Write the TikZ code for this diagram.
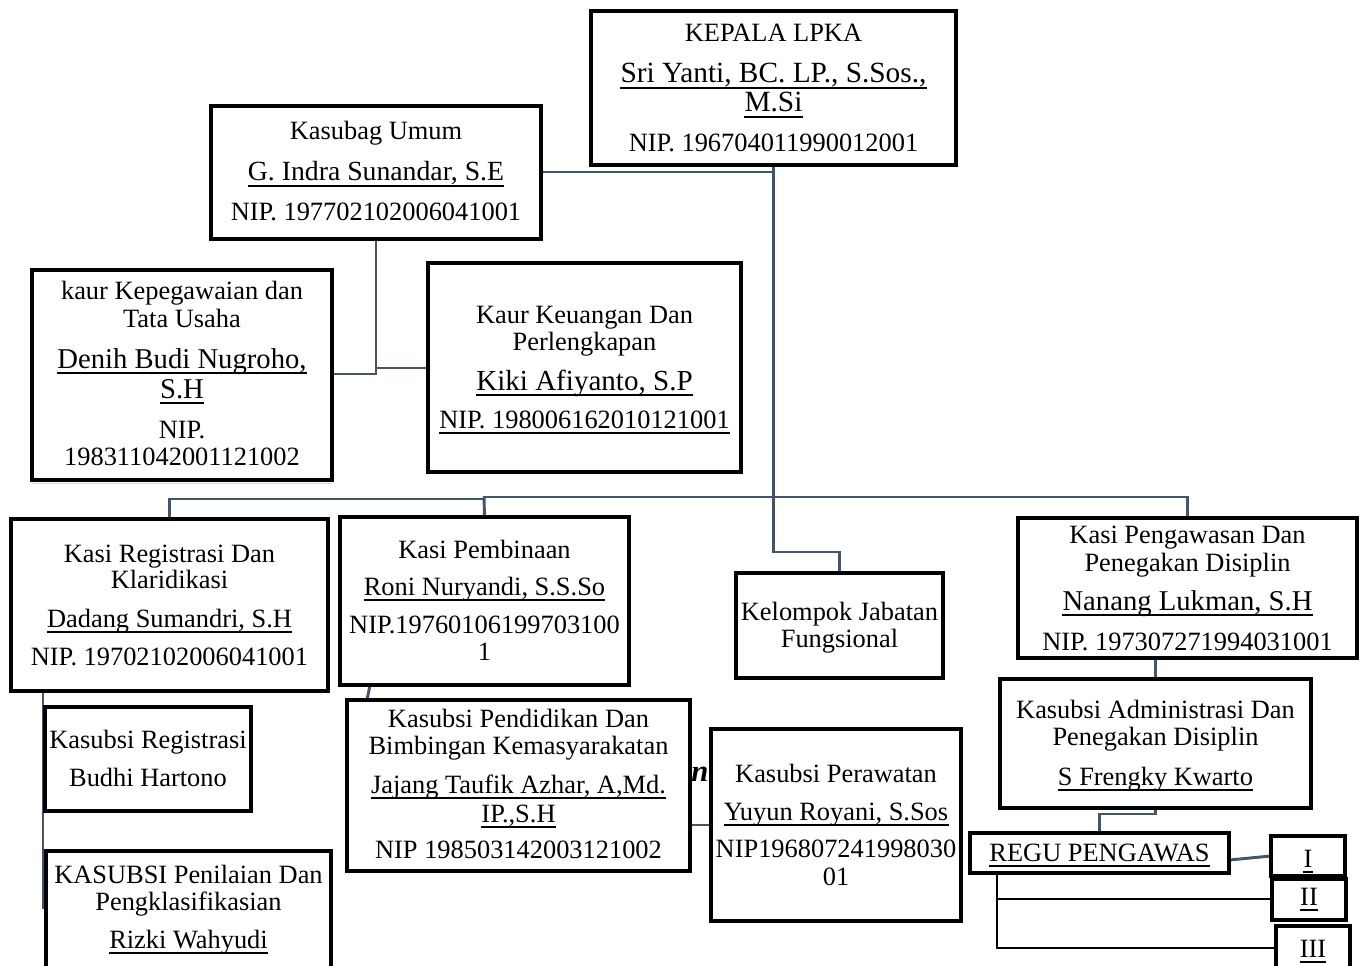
\documentclass[tikz,border=0pt]{standalone}
\usepackage{fontspec}
\setmainfont{Liberation Serif}
\usetikzlibrary{fit}
\definecolor{conn}{HTML}{44546A}
\newcommand\undl[1]{\draw[ulline] ([yshift=-3.6pt]#1.base west) -- ([yshift=-3.6pt]#1.base east);}
\begin{document}
\begin{tikzpicture}[x=0.75pt,y=-0.75pt,
  box/.style={draw=black, line width=2pt, fill=white, inner sep=0pt},
  t/.style={inner sep=0pt, anchor=base, font=\fontsize{19.8}{22}\selectfont},
  nm/.style={inner sep=0pt, anchor=base, font=\fontsize{#1}{24}\selectfont},
  nm/.default=21.5,
  link/.style={draw=conn, line width=2.2pt},
  blk/.style={draw=black, line width=2pt},
  ulline/.style={draw=black, line width=1.1pt},
  shadowline/.style={draw=black!15, line width=1pt}]
\clip (0,0) rectangle (1362,966);
\fill[white] (0,0) rectangle (1362,966);

% stray fragment behind Kasubsi Perawatan
\node[inner sep=0pt, anchor=base west, font=\fontsize{23}{26}\selectfont\bfseries\itshape] (frag) at (691,781) {ni};

% boxes
\node[box, fit={(592,12) (955,164)}] (kepala) {};
\node[box, fit={(212,107) (540,238)}] (kasubag) {};
\node[box, fit={(33,271) (331,479)}] (kaurkep) {};
\node[box, fit={(429,264) (740,471)}] (kaurkeu) {};
\node[box, fit={(12,520) (327,690)}] (kasireg) {};
\node[box, fit={(341,518) (628,684)}] (kasipemb) {};
\node[box, fit={(737,574) (942,677)}] (kelompok) {};
\node[box, fit={(1019,519) (1356,657)}] (kasipeng) {};
\node[box, fit={(1001,680) (1310,807)}] (adm) {};
\node[box, fit={(46,708) (250,810)}] (subreg) {};
\node[box, fit={(47,852) (330,990)}] (penilaian) {};
\node[box, fit={(348,701) (689,870)}] (pendidikan) {};
\node[box, fit={(712,730) (960,920)}] (perawatan) {};
\node[box, fit={(971,834) (1228,872)}] (regu) {};
\node[box, fit={(1272,837) (1344,875)}] (roman1) {};
\node[box, fit={(1273,880) (1345,919)}] (roman2) {};
\node[box, fit={(1277,927) (1349,990)}] (roman3) {};

% helper coordinates
\coordinate (j1) at (773.5,172);
\coordinate (j2) at (376,374);
\coordinate (j3) at (376,368);
\coordinate (busL) at (484,499);
\coordinate (busR) at (773.5,497);
\coordinate (kstep) at (773.5,552);
\coordinate (j4) at (1155.5,814);
\coordinate (y860) at (0,860);
\coordinate (j6) at (997,948);
\coordinate (j7) at (997,899);
\coordinate (j8) at (43,909);
\coordinate (x370) at (370,0);
\coordinate (x367) at (367,0);
\coordinate (y825) at (0,825);

% connectors
\draw[link] (kepala.south) -- (kstep) -| (kelompok.north);
\draw[link] (j1) -- (j1 -| kasubag.east);
\draw[link] (kasubag.south) -- (j2) -- (j2 -| kaurkep.east);
\draw[link] (j3) -- (j3 -| kaurkeu.west);
\draw[link] (kasireg.north) |- (busL) -- (busL |- busR) -- (busR -| kasipeng.north) -- (kasipeng.north);
\draw[link] (busL |- busR) -- (kasipemb.north);
\draw[link] (kasipeng.south -| adm.north) -- (adm.north);
\draw[link] (adm.south) -- (j4) -| (regu.north);
\draw[link] (regu.east |- y860) -- (roman1.west);
\draw[blk] (regu.south -| j6) -- (j6) -- (j6 -| roman3.west);
\draw[blk] (j7) -- (j7 -| roman2.west);
\draw[link] (kasireg.south -| j8) -- (j8);
\draw[link] (kasipemb.south -| x370) -- (pendidikan.north -| x367);
\draw[link] (pendidikan.east |- y825) -- (perawatan.west |- y825);
\draw[shadowline] ([yshift=-2.5pt]kaurkep.south west) -- ([yshift=-2.5pt]kaurkep.south east);

% redraw box borders on top of connector ends
\foreach \b in {kepala,kasubag,kaurkep,kaurkeu,kasireg,kasipemb,kelompok,kasipeng,adm,subreg,penilaian,pendidikan,perawatan,regu,roman1,roman2,roman3}
  \draw[black, line width=2pt] (\b.north west) rectangle (\b.south east);

% texts
\node[t] (kep-a) at (773.5,42) {KEPALA LPKA};
\node[nm=22] (kep-b) at (773.5,83) {Sri Yanti, BC. LP., S.Sos.,};
\node[nm=22] (kep-c) at (773.5,112) {M.Si};
\node[t] (kep-d) at (773.5,152) {NIP. 196704011990012001};
\undl{kep-b}\undl{kep-c}

\node[t] (sub-a) at (376,140) {Kasubag Umum};
\node[nm=20.8] (sub-b) at (376,181) {G. Indra Sunandar, S.E};
\node[t] (sub-c) at (376,221) {NIP. 197702102006041001};
\undl{sub-b}

\node[t] (kk-a) at (182,299) {kaur Kepegawaian dan};
\node[t] (kk-b) at (182,327) {Tata Usaha};
\node[nm] (kk-c) at (182,368) {Denih Budi Nugroho,};
\node[nm] (kk-d) at (182,398) {S.H};
\node[t] (kk-e) at (182,438) {NIP.};
\node[t] (kk-f) at (182,465) {198311042001121002};
\undl{kk-c}\undl{kk-d}

\node[t] (ku-a) at (584.5,323) {Kaur Keuangan Dan};
\node[t] (ku-b) at (584.5,350) {Perlengkapan};
\node[nm=21.8] (ku-c) at (584.5,390) {Kiki Afiyanto, S.P};
\node[t] (ku-d) at (584.5,428) {NIP. 198006162010121001};
\undl{ku-c}\undl{ku-d}

\node[t] (kr-a) at (169.5,562) {Kasi Registrasi Dan};
\node[t] (kr-b) at (169.5,588) {Klaridikasi};
\node[t] (kr-c) at (169.5,627) {Dadang Sumandri, S.H};
\node[t] (kr-d) at (169.5,665) {NIP. 19702102006041001};
\undl{kr-c}

\node[t] (kp-a) at (484.5,558) {Kasi Pembinaan};
\node[t] (kp-b) at (484.5,595) {Roni Nuryandi, S.S.So};
\node[t] (kp-c) at (484.5,633) {NIP.19760106199703100};
\node[t] (kp-d) at (484.5,660) {1};
\undl{kp-b}

\node[t] (kj-a) at (839.5,620) {Kelompok Jabatan};
\node[t] (kj-b) at (839.5,647) {Fungsional};

\node[t] (pg-a) at (1187.5,543) {Kasi Pengawasan Dan};
\node[t] (pg-b) at (1187.5,571) {Penegakan Disiplin};
\node[nm] (pg-c) at (1187.5,610) {Nanang Lukman, S.H};
\node[t] (pg-d) at (1187.5,650) {NIP. 197307271994031001};
\undl{pg-c}

\node[t] (ad-a) at (1155.5,718) {Kasubsi Administrasi Dan};
\node[t] (ad-b) at (1155.5,745) {Penegakan Disiplin};
\node[t] (ad-c) at (1155.5,785) {S Frengky Kwarto};
\undl{ad-c}

\node[t] (sr-a) at (148,748) {Kasubsi Registrasi};
\node[t] (sr-b) at (148,786) {Budhi Hartono};

\node[t] (pn-a) at (188.5,883) {KASUBSI Penilaian Dan};
\node[t] (pn-b) at (188.5,910) {Pengklasifikasian};
\node[t] (pn-c) at (188.5,948) {Rizki Wahyudi};
\undl{pn-c}

\node[t] (pd-a) at (518.5,727) {Kasubsi Pendidikan Dan};
\node[t] (pd-b) at (518.5,754) {Bimbingan Kemasyarakatan};
\node[t] (pd-c) at (518.5,793) {Jajang Taufik Azhar, A,Md.};
\node[t] (pd-d) at (518.5,822) {IP.,S.H};
\node[t] (pd-e) at (518.5,858) {NIP 198503142003121002};
\undl{pd-c}\undl{pd-d}

\node[t] (pr-a) at (836,782) {Kasubsi Perawatan};
\node[t] (pr-b) at (836,820) {Yuyun Royani, S.Sos};
\node[t] (pr-c) at (836,857) {NIP196807241998030};
\node[t] (pr-d) at (836,885) {01};
\undl{pr-b}

\node[t] (rg-a) at (1099.5,861) {REGU PENGAWAS};
\undl{rg-a}
\node[t] (r1-a) at (1308,867) {I};
\node[t] (r2-a) at (1309,905) {II};
\node[t] (r3-a) at (1313,957) {III};
\undl{r1-a}\undl{r2-a}\undl{r3-a}
\end{tikzpicture}
\end{document}
